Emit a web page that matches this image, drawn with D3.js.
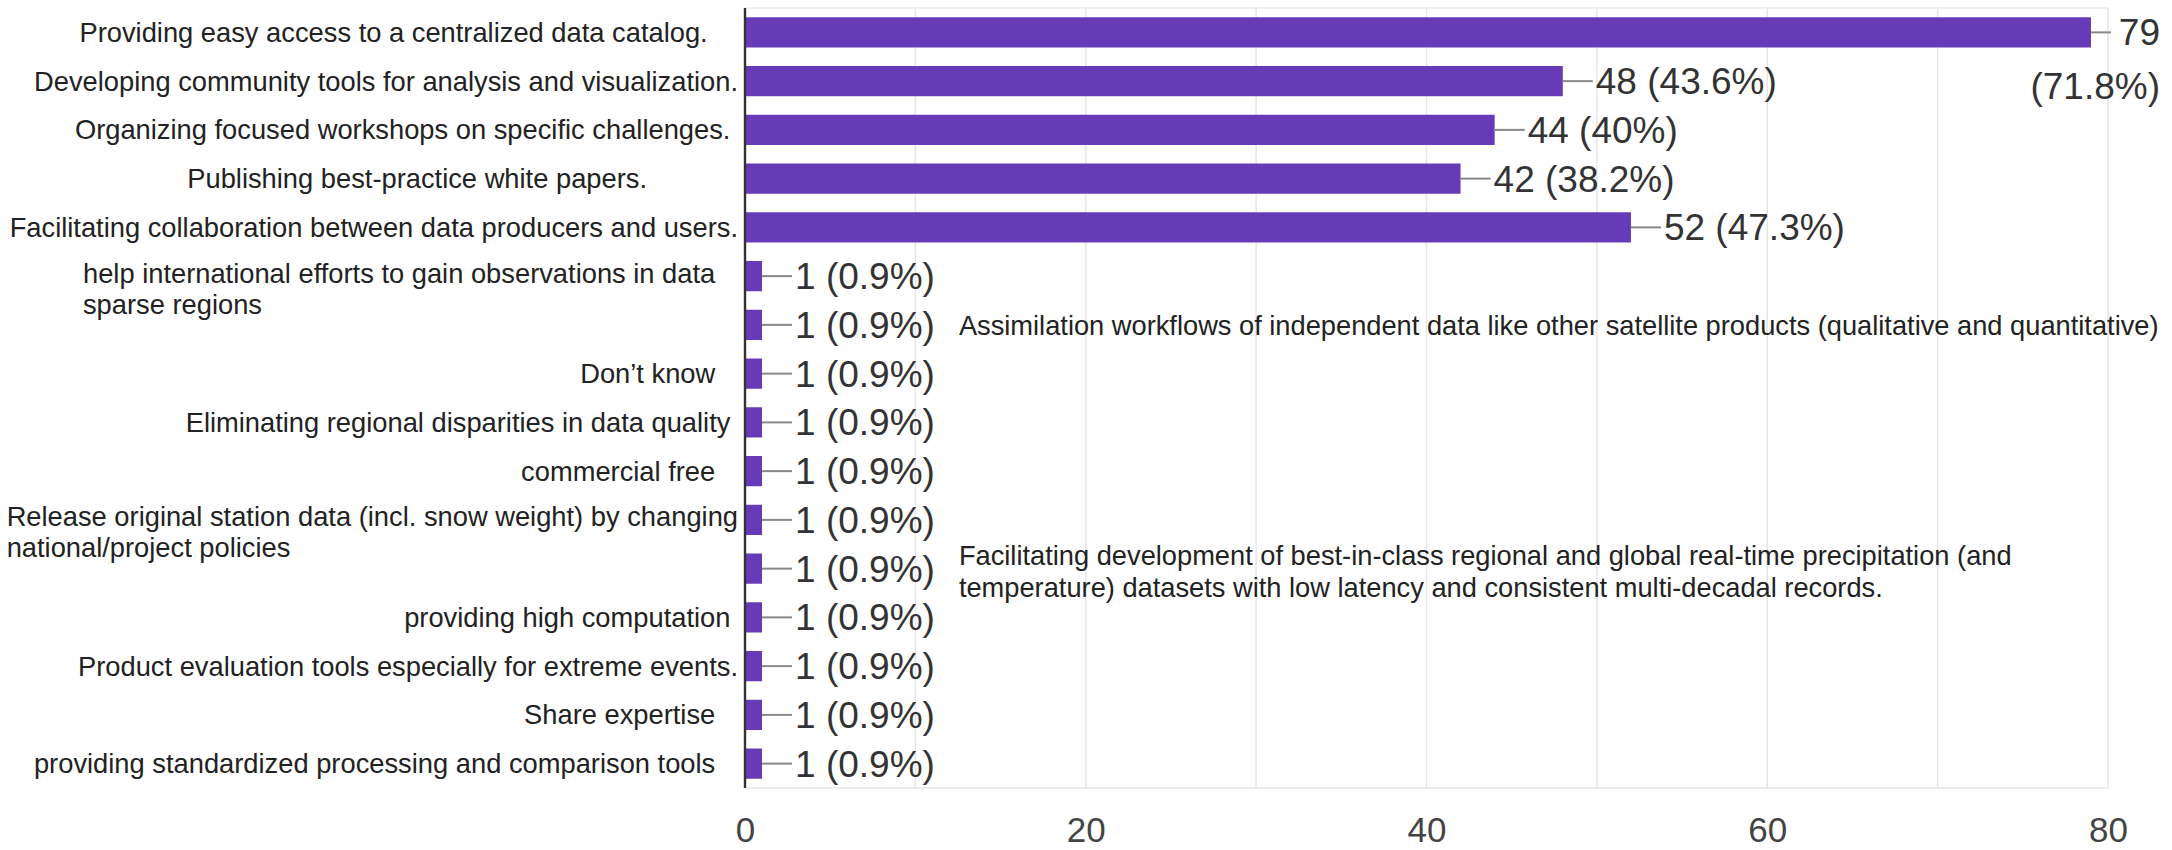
<!DOCTYPE html>
<html><head><meta charset="utf-8">
<script src="https://cdn.jsdelivr.net/npm/d3@7"></script>
<style>
html,body{margin:0;padding:0;background:#fff;}
svg text{white-space:pre;font-family:Arial,"Liberation Sans",sans-serif;}
</style></head>
<body><svg id="chart" width="2172" height="850" xml:space="preserve"></svg>
<script>
// ---- data ----
const categories = [
  "Providing easy access to a centralized data catalog.    ",
  "Developing community tools for analysis and visualization.",
  "Organizing focused workshops on specific challenges. ",
  "Publishing best-practice white papers.            ",
  "Facilitating collaboration between data producers and users.",
  "help international efforts to gain observations in data   \nsparse regions",
  "",
  "Don\u2019t know   ",
  "Eliminating regional disparities in data quality ",
  "commercial free   ",
  "Release original station data (incl. snow weight) by changing\nnational/project policies",
  "",
  "providing high computation ",
  "Product evaluation tools especially for extreme events.",
  "Share expertise   ",
  "providing standardized processing and comparison tools   "
];
const counts = [79, 48, 44, 42, 52, 1, 1, 1, 1, 1, 1, 1, 1, 1, 1, 1];
const percents = ["71.8%", "43.6%", "40%", "38.2%", "47.3%", "0.9%", "0.9%", "0.9%",
                  "0.9%", "0.9%", "0.9%", "0.9%", "0.9%", "0.9%", "0.9%", "0.9%"];
const otherAnswers = [
  "", "", "", "", "", "",
  "Assimilation workflows of independent data like other satellite products (qualitative and quantitative)",
  "", "", "", "",
  "Facilitating development of best-in-class regional and global real-time precipitation (and\ntemperature) datasets with low latency and consistent multi-decadal records.",
  "", "", "", ""
];
const xTicks = [0, 20, 40, 60, 80];
const xGrid = [10, 20, 30, 40, 50, 60, 70, 80];

// ---- layout ----
const W = 2172, H = 850;
const svg = d3.select("#chart");
const x = d3.scaleLinear().domain([0, 80]).range([745, 2108]);
const y = d3.scaleBand().domain(d3.range(categories.length)).range([8, 788])
  .paddingInner(0.38).paddingOuter(0.19);

const labelRight = 738;
const catFont = 27.3, valFont = 37, tickFont = 35, noteFont = 27.25;

// gridlines
svg.append("g").selectAll("line").data(xGrid).join("line")
  .attr("x1", d => x(d)).attr("x2", d => x(d))
  .attr("y1", 8).attr("y2", 788)
  .attr("stroke", "#e6e6e6").attr("stroke-width", 1.5);
svg.append("line").attr("x1", x(0)).attr("x2", x(80)).attr("y1", 8).attr("y2", 8)
  .attr("stroke", "#ececec").attr("stroke-width", 1.5);
svg.append("line").attr("x1", x(0)).attr("x2", x(80)).attr("y1", 788).attr("y2", 788)
  .attr("stroke", "#e6e6e6").attr("stroke-width", 1.5);

// x axis tick labels
const xAxis = d3.axisBottom(x).tickValues(xTicks).tickSize(0).tickPadding(0).tickFormat(d3.format("d"));
const gx = svg.append("g").attr("transform", "translate(0,842)").call(xAxis);
gx.select(".domain").remove();
gx.selectAll("text").attr("font-size", tickFont).attr("fill", "#444")
  .attr("font-family", "Arial, 'Liberation Sans', sans-serif").attr("dy", 0);

// bars
svg.append("g").selectAll("rect").data(counts).join("rect")
  .attr("x", x(0)).attr("y", (d, i) => y(i))
  .attr("width", d => x(d) - x(0)).attr("height", y.bandwidth())
  .attr("fill", "#673ab7");

// vertical axis line
svg.append("line").attr("x1", x(0)).attr("x2", x(0)).attr("y1", 8).attr("y2", 788)
  .attr("stroke", "#333").attr("stroke-width", 2.4);

// category labels
const catG = svg.append("g");
categories.forEach((c, i) => {
  if (!c) return;
  const lines = c.split("\n");
  const cy = y(i) + y.bandwidth() / 2;
  if (lines.length === 1) {
    catG.append("text").attr("x", labelRight).attr("y", cy).attr("dy", "0.35em")
      .attr("text-anchor", "end").attr("font-size", catFont).attr("fill", "#222")
      .text(lines[0]);
  } else {
    const ts = lines.map((l, k) => catG.append("text").attr("y", cy - 3 + k * 31).attr("dy", "0.35em")
      .attr("font-size", catFont).attr("fill", "#222").text(l));
    const wmax = d3.max(ts, t => t.node().getComputedTextLength());
    ts.forEach(t => t.attr("x", labelRight - wmax));
  }
});

// value labels with leader lines
const valG = svg.append("g");
const valueEnds = [];
counts.forEach((v, i) => {
  const cy = y(i) + y.bandwidth() / 2;
  const bx = x(v);
  const label = v + " (" + percents[i] + ")";
  const t = valG.append("text").attr("x", bx + 33).attr("y", cy).attr("dy", "0.35em")
    .attr("font-size", valFont).attr("fill", "#333").text(label);
  const w = t.node().getComputedTextLength();
  if (bx + 33 + w > W - 8) {
    t.remove();
    const rx = W - 12;
    valG.append("text").attr("x", rx).attr("y", cy).attr("dy", "0.35em").attr("text-anchor", "end")
      .attr("font-size", valFont).attr("fill", "#333").text(String(v));
    valG.append("text").attr("x", rx).attr("y", cy + 54).attr("dy", "0.35em").attr("text-anchor", "end")
      .attr("font-size", valFont).attr("fill", "#333").text("(" + percents[i] + ")");
    valG.append("line").attr("x1", bx).attr("x2", bx + 20).attr("y1", cy).attr("y2", cy)
      .attr("stroke", "#888").attr("stroke-width", 2);
    valueEnds.push(rx);
  } else {
    valG.append("line").attr("x1", bx).attr("x2", bx + 30).attr("y1", cy).attr("y2", cy)
      .attr("stroke", "#888").attr("stroke-width", 2);
    valueEnds.push(bx + 33 + w);
  }
});

// other (free-text) answers shown beside their bars
const noteG = svg.append("g");
otherAnswers.forEach((a, i) => {
  if (!a) return;
  const lines = a.split("\n");
  const cy = y(i) + y.bandwidth() / 2;
  const n = lines.length;
  lines.forEach((l, k) => {
    noteG.append("text").attr("x", valueEnds[i] + 24)
      .attr("y", cy + 1 + (k - (n - 1) / 2) * 32 + (n > 1 ? 2 : 0)).attr("dy", "0.35em")
      .attr("font-size", noteFont).attr("fill", "#222").text(l);
  });
});
</script></body></html>
